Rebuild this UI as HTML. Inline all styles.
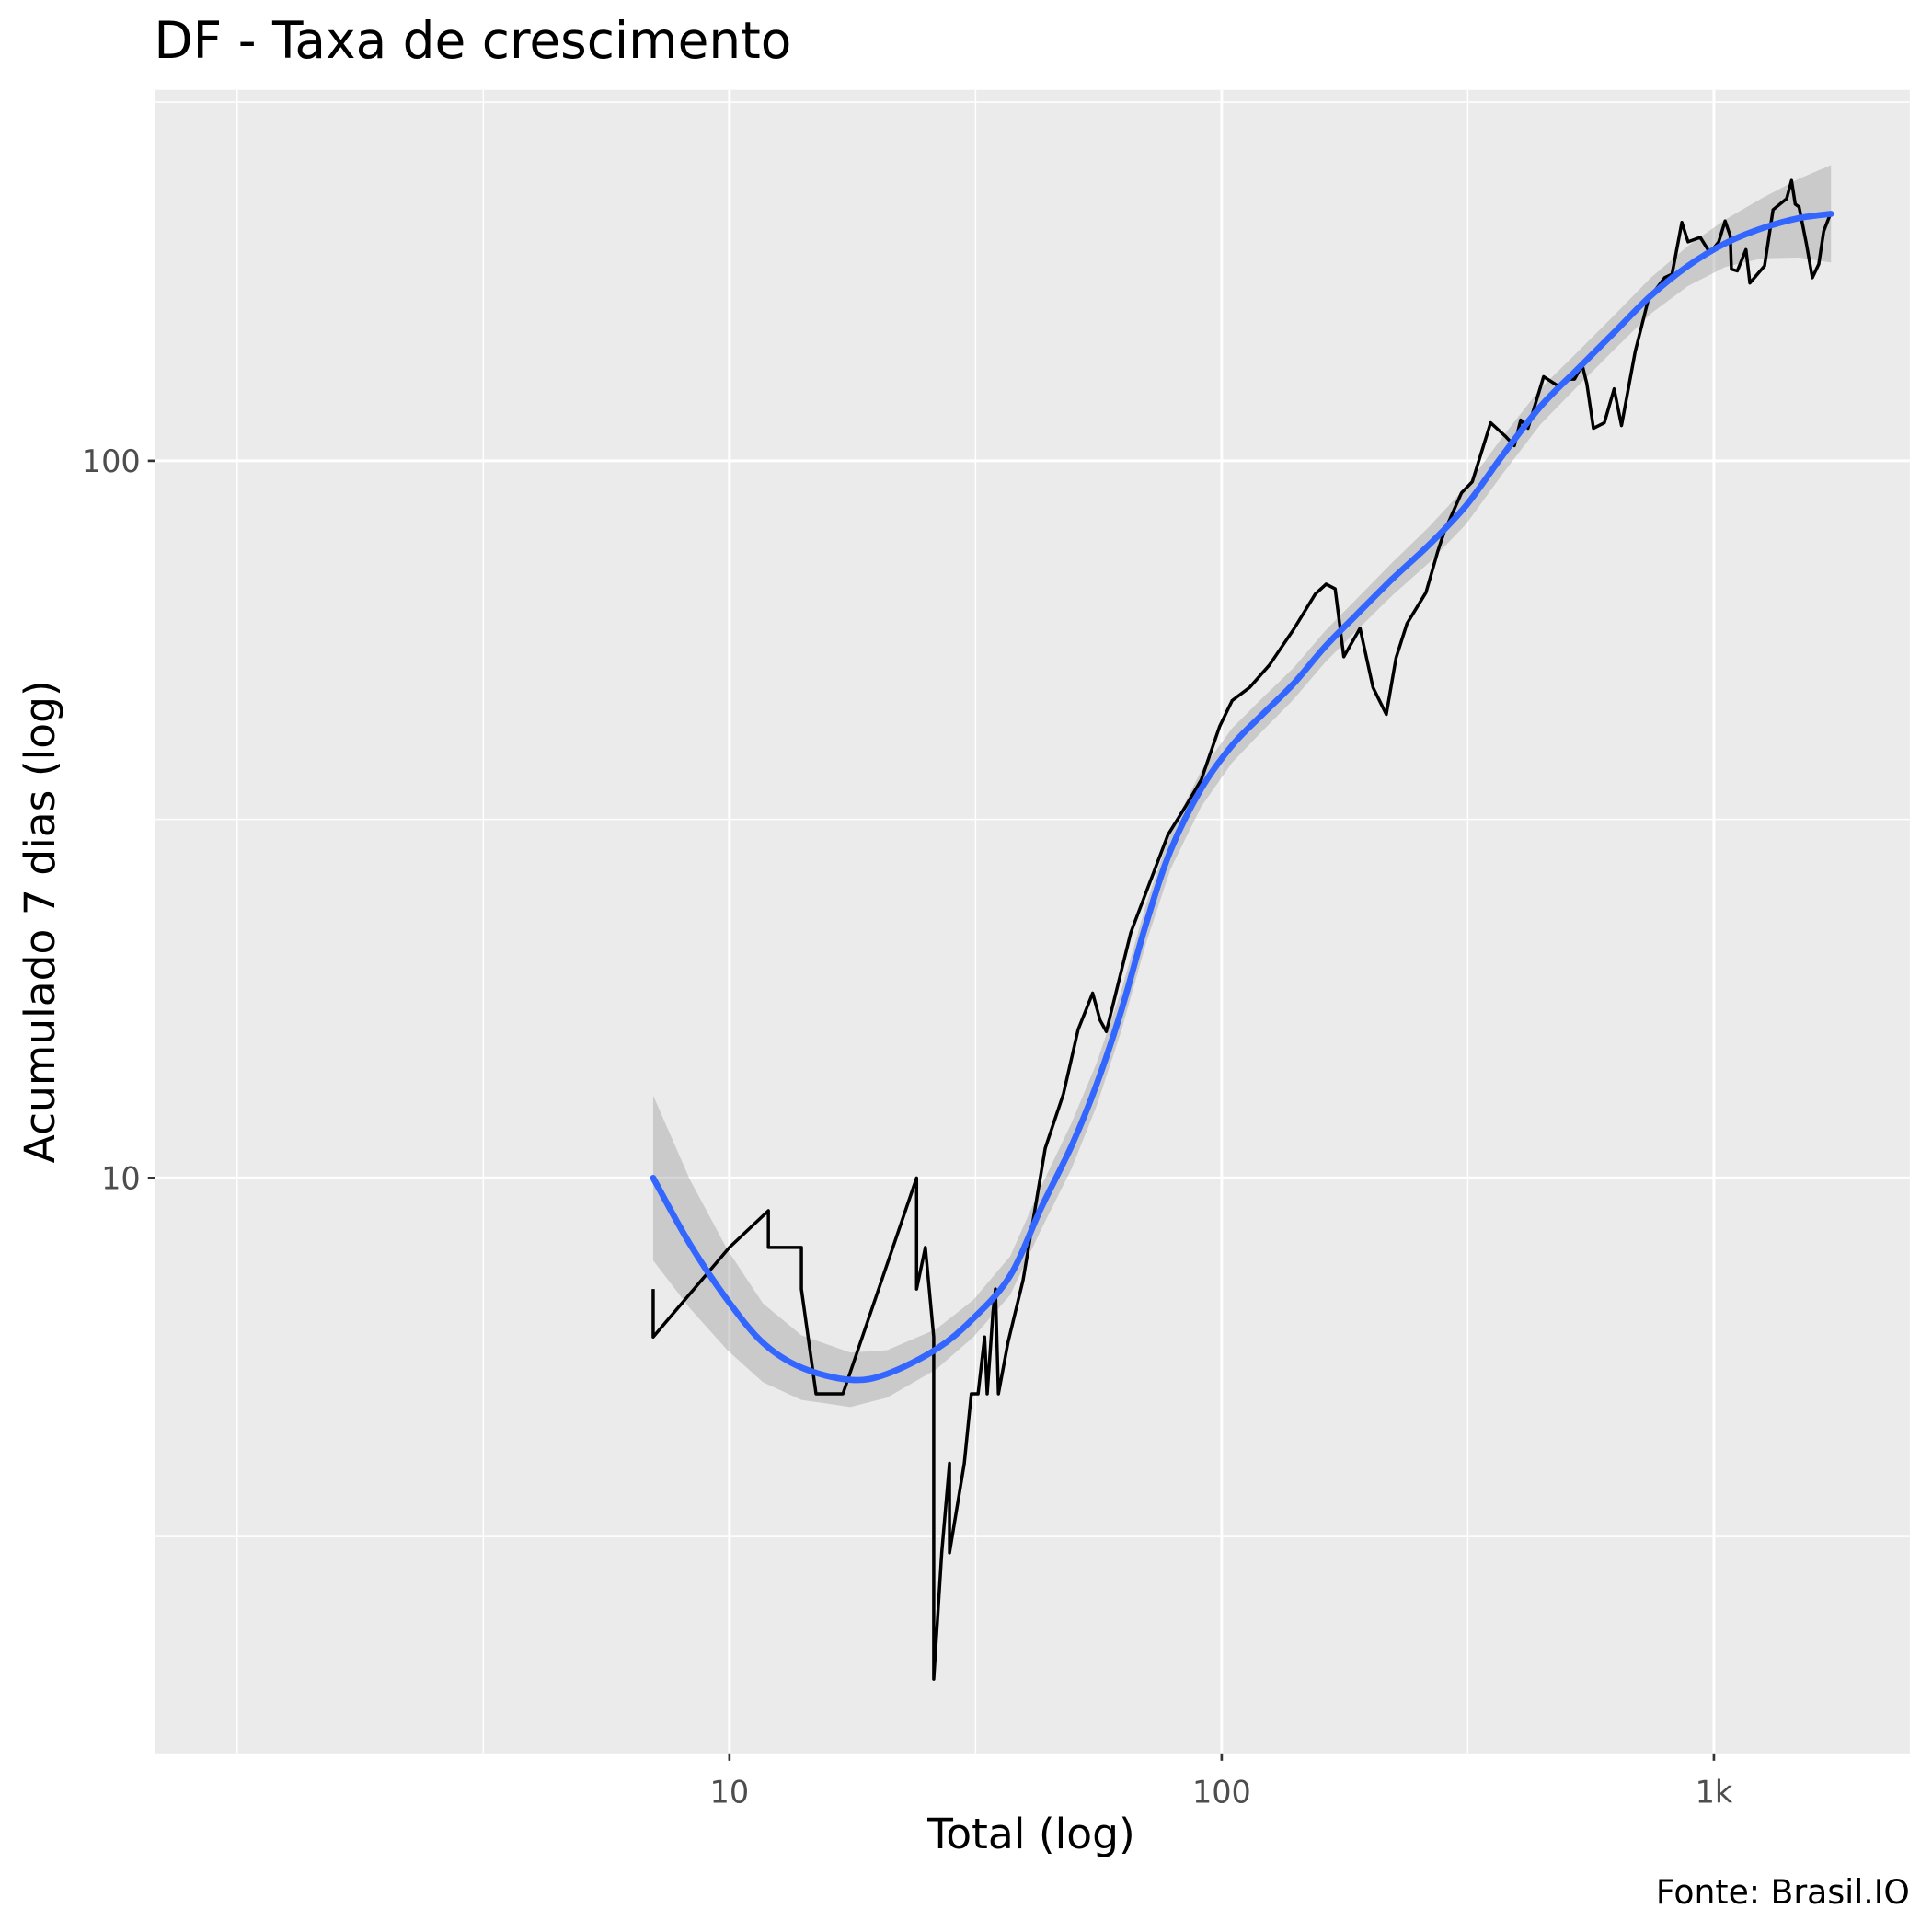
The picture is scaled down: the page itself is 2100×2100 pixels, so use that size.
<!DOCTYPE html>
<html><head><meta charset="utf-8"><style>
html,body{margin:0;padding:0;background:#fff}
svg{display:block;font-family:"DejaVu Sans","Liberation Sans",sans-serif}
</style></head><body>
<svg id="chart" width="2100" height="2100" viewBox="0 0 1568 1568" xmlns="http://www.w3.org/2000/svg">
<rect x="126" y="73" width="1424" height="1350" fill="#ebebeb"/>
<g id="grid"></g>
<g id="band"></g>
<g id="series"></g>
<g id="axes"></g>
<text x="125" y="47" font-size="41" fill="#000">DF - Taxa de crescimento</text>
<text x="837" y="1500" font-size="34" text-anchor="middle" fill="#000">Total (log)</text>
<text transform="translate(44,748) rotate(-90)" font-size="34" text-anchor="middle" fill="#000">Acumulado 7 dias (log)</text>
<text x="1550" y="1545" font-size="27" text-anchor="end" fill="#000">Fonte: Brasil.IO</text>
</svg>
<script>
const lineX=[7,7,10,12,12,14,14,15,17,24,24,25,26,26,27,28,28,30,31,32,33,33.4,34.3,34.7,35.2,36.8,39.5,43.8,47.7,51.1,54.7,56.6,58.3,65.4,77.8,84.3,90.9,99,105,114,125,140,155,163,170,177,191,203,216,226,238,260,275,283,307,323,352,378,393,405,419,451,484,504,521,540,552,569,599,627,649,692,736,794,822,861,886,938,982,1023,1054,1079,1085,1116,1162,1183,1267,1319,1405,1438,1463,1489,1541,1585,1633,1671,1729];
const lineY=[7,6,8,9,8,8,7,5,5,10,7,8,6,2,3,4,3,4,5,5,6,5,6.5,7,5,5.9,7.2,11,13.1,16.1,18.1,16.6,16,22,30.1,32.9,35.9,42.6,46.3,48.3,51.9,58.2,65.2,67.3,66.3,53.3,58.4,48.3,44.3,53.1,59.3,65.5,74.9,79.5,90.2,93.5,113,108,105,114,111,131,127,130,130,136,128,111,113,126,112,142,168,180,182,215,202,205,195,202,216,206,185,184,197,177,187,224,232,246,228,226,201,180,188,209,222];
const fitX=[7.0,8.3,9.9,11.7,14.0,17.6,20.9,26.3,31.3,37.2,43.0,49.6,55.7,62.5,70.2,78.7,90.9,105,121,140,162,187,222,264,314,373,444,527,627,745,886,1054,1253,1489,1729];
const fitY=[10.0,8.1,6.76,5.89,5.44,5.23,5.33,5.77,6.37,7.31,9.09,11.1,13.5,17.1,22.6,28.6,34.9,40.1,44.3,48.9,55.0,60.8,68.4,76.4,86.7,102,119,134,151,170,187,201,211,218,221];
const fitSE=[0.115,0.09,0.07,0.055,0.045,0.038,0.033,0.028,0.026,0.027,0.03,0.032,0.03,0.028,0.027,0.026,0.025,0.024,0.023,0.022,0.022,0.022,0.023,0.025,0.026,0.026,0.025,0.024,0.024,0.025,0.028,0.033,0.042,0.055,0.068];
const xTicks=[10,100,1000];
const xTickLabels=["10","100","1k"];
const yTicks=[10,100];
const yTickLabels=["10","100"];
const xMinor=[1,3.1623,31.623,316.23];
const yMinor=[3.1623,31.623,316.23];

const NS="http://www.w3.org/2000/svg";
function sx(v){return 592+(Math.log10(v)-1)*399.5;}
function sy(v){return 956-(Math.log10(v)-1)*582;}
function syl(l){return 956-(l-1)*582;}
function mk(t,a,p){const e=document.createElementNS(NS,t);for(const k in a)e.setAttribute(k,a[k]);p.appendChild(e);return e;}
const grid=document.getElementById('grid'),band=document.getElementById('band'),series=document.getElementById('series'),axes=document.getElementById('axes');
xMinor.forEach(v=>{const l=mk('line',{x1:sx(v),x2:sx(v),y1:73,y2:1423,stroke:'#fff','stroke-width':1.1},grid);

});
yMinor.forEach(v=>{const l=mk('line',{x1:126,x2:1550,y1:sy(v),y2:sy(v),stroke:'#fff','stroke-width':1.1},grid);

});
xTicks.forEach((v,i)=>{const l=mk('line',{x1:sx(v),x2:sx(v),y1:73,y2:1423,stroke:'#fff','stroke-width':2.2},grid);


const t=mk('line',{x1:sx(v),x2:sx(v),y1:1423,y2:1429,stroke:'#333','stroke-width':2},axes);


const tx=mk('text',{x:sx(v),y:1463,'font-size':25,'text-anchor':'middle',fill:'#4d4d4d'},axes);tx.textContent=xTickLabels[i];

});
yTicks.forEach((v,i)=>{const l=mk('line',{x1:126,x2:1550,y1:sy(v),y2:sy(v),stroke:'#fff','stroke-width':2.2},grid);


const t=mk('line',{x1:120,x2:126,y1:sy(v),y2:sy(v),stroke:'#333','stroke-width':2},axes);


const tx=mk('text',{x:114,y:sy(v)+9,'font-size':25,'text-anchor':'end',fill:'#4d4d4d'},axes);tx.textContent=yTickLabels[i];

});
let up=[],lo=[];
fitX.forEach((x,i)=>{const l=Math.log10(fitY[i]);up.push(sx(x).toFixed(1)+','+syl(l+fitSE[i]).toFixed(1));lo.unshift(sx(x).toFixed(1)+','+syl(l-fitSE[i]).toFixed(1));});
const bp=mk('polygon',{points:up.concat(lo).join(' '),fill:'#999','fill-opacity':0.4},band);


const lp=mk('polyline',{points:lineX.map((x,i)=>sx(x).toFixed(1)+','+sy(lineY[i]).toFixed(1)).join(' '),fill:'none',stroke:'#000','stroke-width':2.6,'stroke-linejoin':'round'},series);


const P=fitX.map((x,i)=>[sx(x),sy(fitY[i])]);
let d='M'+P[0][0]+','+P[0][1];
for(let i=0;i<P.length-1;i++){const p0=P[Math.max(0,i-1)],p1=P[i],p2=P[i+1],p3=P[Math.min(P.length-1,i+2)];
d+=' C'+(p1[0]+(p2[0]-p0[0])/6)+','+(p1[1]+(p2[1]-p0[1])/6)+' '+(p2[0]-(p3[0]-p1[0])/6)+','+(p2[1]-(p3[1]-p1[1])/6)+' '+p2[0]+','+p2[1];}
const fp=mk('path',{d:d,fill:'none',stroke:'#3366ff','stroke-width':5,'stroke-linecap':'round'},series);


</script>
</body></html>
